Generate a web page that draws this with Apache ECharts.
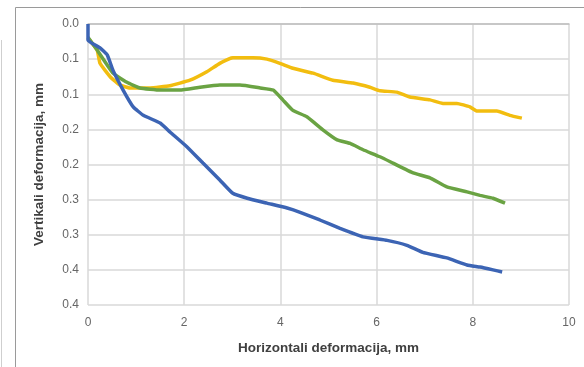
<!DOCTYPE html>
<html>
<head>
<meta charset="utf-8">
<script src="https://cdn.jsdelivr.net/npm/echarts@6/dist/echarts.min.js"></script>
<style>html,body{margin:0;padding:0;background:#fff;}#c{width:584px;height:367px;}</style>
</head>
<body>
<div id="c"></div>
<script>
// Data (x: horizontal deformation mm, y: vertical deformation mm)
var blueX = [0, 0, 0.25, 0.4, 0.52, 0.73, 0.94, 1.15, 1.5, 1.71, 2.06, 2.39, 2.74, 3.01, 3.31, 3.72, 4.14, 4.41, 4.82, 5.24, 5.72, 6.22, 6.63, 6.96, 7.46, 7.88, 8.15, 8.42, 8.61];
var blueY = [0, 0.023, 0.034, 0.044, 0.066, 0.094, 0.118, 0.130, 0.141, 0.154, 0.175, 0.198, 0.222, 0.241, 0.248, 0.255, 0.262, 0.268, 0.279, 0.291, 0.303, 0.308, 0.315, 0.325, 0.333, 0.343, 0.346, 0.350, 0.353];
var greenX = [0, 0.19, 0.52, 0.81, 1.08, 1.5, 1.91, 2.33, 2.74, 3.16, 3.58, 3.85, 4.05, 4.26, 4.55, 4.89, 5.18, 5.45, 5.72, 6.07, 6.34, 6.76, 7.11, 7.46, 7.88, 8.15, 8.42, 8.67];
var greenY = [0.019, 0.037, 0.070, 0.083, 0.091, 0.094, 0.094, 0.090, 0.087, 0.087, 0.091, 0.094, 0.108, 0.123, 0.132, 0.151, 0.165, 0.170, 0.179, 0.189, 0.198, 0.212, 0.219, 0.232, 0.239, 0.244, 0.248, 0.255];
var yellowX = [0, 0.19, 0.25, 0.46, 0.67, 0.87, 1.29, 1.7, 2.12, 2.47, 2.74, 3.01, 3.43, 3.72, 3.99, 4.26, 4.68, 5.09, 5.51, 5.86, 6.07, 6.42, 6.69, 7.11, 7.38, 7.67, 7.94, 8.09, 8.5, 8.77, 9.02];
var yellowY = [0.02, 0.037, 0.056, 0.075, 0.087, 0.091, 0.091, 0.088, 0.080, 0.068, 0.056, 0.048, 0.048, 0.050, 0.056, 0.063, 0.070, 0.080, 0.084, 0.090, 0.095, 0.097, 0.104, 0.108, 0.113, 0.113, 0.118, 0.124, 0.124, 0.130, 0.134];
var yTickLabels = ['0.0', '0.1', '0.1', '0.2', '0.2', '0.3', '0.3', '0.4', '0.4'];
var xTickLabels = ['0', '2', '4', '6', '8', '10'];

function pairs(xs, ys) { return xs.map(function (x, i) { return [x, ys[i]]; }); }

var chart = echarts.init(document.getElementById('c'), null, { renderer: 'canvas' });
var font = 'Liberation Sans, Arial, sans-serif';
function line(name, xs, ys, color) {
  return { name: name, type: 'line', data: pairs(xs, ys), showSymbol: false, symbol: 'none',
    lineStyle: { color: color, width: 3.5 }, itemStyle: { color: color }, smooth: 0.12, animation: false, z: 3 };
}
chart.setOption({
  animation: false,
  grid: { left: 88, right: 15, top: 24, bottom: 62, containLabel: false },
  graphic: [
    { type: 'rect', shape: { x: 15.5, y: 7.5, width: 600, height: 400 }, style: { fill: 'none', stroke: '#9a9a9a', lineWidth: 1 }, silent: true },
    { type: 'line', shape: { x1: 1.5, y1: 40, x2: 1.5, y2: 367 }, style: { stroke: '#cfcfcf', lineWidth: 1 }, silent: true }
  ],
  xAxis: {
    type: 'value', min: 0, max: 10, interval: 2,
    name: 'Horizontali deformacija, mm', nameLocation: 'middle', nameGap: 36,
    nameTextStyle: { color: '#404040', fontSize: 13.5, fontWeight: 'bold', fontFamily: font },
    axisLine: { show: true, lineStyle: { color: '#bfbfbf', width: 1.5 } },
    axisTick: { show: false },
    axisLabel: { color: '#666666', fontSize: 12, fontFamily: font, margin: 12,
      formatter: function (v) { return xTickLabels[Math.round(v / 2)]; } },
    splitLine: { show: true, lineStyle: { color: '#d9d9d9', width: 1.5 } }
  },
  yAxis: {
    type: 'value', min: 0, max: 0.4, interval: 0.05, inverse: true,
    name: 'Vertikali deformacija, mm', nameLocation: 'middle', nameGap: 42, nameRotate: 90,
    nameTextStyle: { color: '#404040', fontSize: 13.5, fontWeight: 'bold', fontFamily: font },
    axisLine: { show: false }, axisTick: { show: false },
    axisLabel: { color: '#666666', fontSize: 12, fontFamily: font, margin: 9,
      formatter: function (v) { return yTickLabels[Math.round(v / 0.05)]; } },
    splitLine: { show: true, lineStyle: { color: '#d9d9d9', width: 1.5 } }
  },
  series: [
    line('Yellow', yellowX, yellowY, '#f2bd0f'),
    line('Green', greenX, greenY, '#6aa343'),
    line('Blue', blueX, blueY, '#3c64b4')
  ]
});
</script>
</body>
</html>
